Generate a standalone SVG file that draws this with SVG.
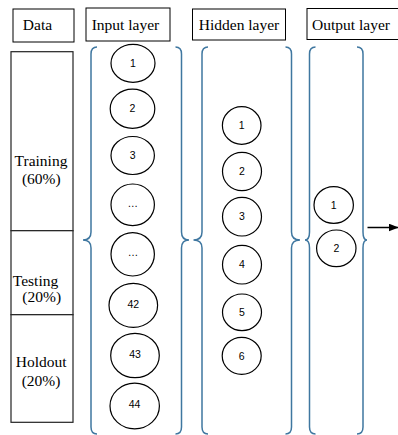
<svg xmlns="http://www.w3.org/2000/svg" width="398" height="435" viewBox="0 0 398 435">
<style>
.hdr{fill:#fff;stroke:#000;stroke-width:1}
.hl{font-family:"Liberation Serif","Times New Roman",serif;font-size:15.5px;fill:#000;text-anchor:middle}
.seg{fill:#fff;stroke:#222;stroke-width:1.2}
.brace{fill:none;stroke:#3F77A0;stroke-width:1.5}
.node{fill:#fff;stroke:#000;stroke-width:1.2}
.nt{font-family:"Liberation Sans",Arial,sans-serif;font-size:10.5px;fill:#000;text-anchor:middle}
</style>
<defs>
<marker id="ah" markerWidth="10" markerHeight="8" refX="9.5" refY="4" orient="auto" markerUnits="userSpaceOnUse">
<path d="M0,0 L10,4 L0,8 Z" fill="#000"/>
</marker>
</defs>
<rect width="398" height="435" fill="#fff"/>

<g id="headers">
<g id="hdr-data"><rect class="hdr" x="13" y="9" width="61" height="33"/><text class="hl" x="37.5" y="30">Data</text></g>
<g id="hdr-input"><rect class="hdr" x="86" y="8" width="84" height="33"/><text class="hl" x="125.5" y="29.5">Input layer</text></g>
<g id="hdr-hidden"><rect class="hdr" x="192.5" y="9" width="93" height="31"/><text class="hl" x="239" y="29.5">Hidden layer</text></g>
<g id="hdr-output"><rect class="hdr" x="307" y="8.5" width="100" height="31"/><text class="hl" x="351" y="29.5">Output layer</text></g>
</g>

<g id="data">
<g id="training"><rect class="seg" x="11" y="51.7" width="62" height="179"/>
<text class="hl" x="41" y="166">Training</text><text class="hl" x="41.3" y="183.5">(60%)</text></g>
<g id="testing"><rect class="seg" x="11" y="230.7" width="62" height="84"/>
<text class="hl" x="35.5" y="285.5">Testing</text><text class="hl" x="41.7" y="302">(20%)</text></g>
<g id="holdout"><rect class="seg" x="11" y="314.7" width="62" height="107.6"/>
<text class="hl" x="41.2" y="367.3">Holdout</text><text class="hl" x="41" y="386">(20%)</text></g>
</g>

<g id="braces">
<path class="brace" d="M97,47 Q91,47 91,54 L91,232 Q91,240 83,240 Q91,240 91,248 L91,427 Q91,434 97,434"/>
<path class="brace" d="M175.5,47 Q181.5,47 181.5,54 L181.5,232 Q181.5,240 189,240 Q181.5,240 181.5,248 L181.5,427 Q181.5,434 175.5,434"/>
<path class="brace" d="M208,47 Q202,47 202,54 L202,232 Q202,240 193.5,240 Q202,240 202,248 L202,427 Q202,434 208,434"/>
<path class="brace" d="M285.5,47 Q291.5,47 291.5,54 L291.5,232 Q291.5,240 300,240 Q291.5,240 291.5,248 L291.5,427 Q291.5,434 285.5,434"/>
<path class="brace" d="M315.5,47 Q309.5,47 309.5,54 L309.5,232 Q309.5,240 305,240 Q309.5,240 309.5,248 L309.5,427 Q309.5,434 315.5,434"/>
<path class="brace" d="M357,47 Q363,47 363,54 L363,232 Q363,240 367,240 Q363,240 363,248 L363,427 Q363,434 357,434"/>
</g>

<g id="input-nodes">
<g id="in1"><ellipse class="node" cx="133" cy="63.3" rx="22" ry="19"/><text class="nt" x="133" y="67">1</text></g>
<g id="in2"><ellipse class="node" cx="132.5" cy="108.7" rx="22.3" ry="19.6"/><text class="nt" x="132.5" y="112.4">2</text></g>
<g id="in3"><ellipse class="node" cx="132.7" cy="155.5" rx="21.7" ry="19"/><text class="nt" x="132.7" y="159">3</text></g>
<g id="in4"><ellipse class="node" cx="132.7" cy="204.8" rx="21.7" ry="20.8"/><text class="nt" x="132.7" y="206.5">…</text></g>
<g id="in5"><ellipse class="node" cx="132.7" cy="254.3" rx="21.7" ry="21.7"/><text class="nt" x="133" y="256">…</text></g>
<g id="in42"><ellipse class="node" cx="133.3" cy="305.3" rx="24.3" ry="22"/><text class="nt" x="133.3" y="307.5">42</text></g>
<g id="in43"><ellipse class="node" cx="135" cy="355.5" rx="24.3" ry="22.2"/><text class="nt" x="135" y="357.5">43</text></g>
<g id="in44"><ellipse class="node" cx="134.7" cy="406" rx="24.7" ry="22.8"/><text class="nt" x="134.5" y="407.8">44</text></g>
</g>

<g id="hidden-nodes">
<g id="h1"><ellipse class="node" cx="241.7" cy="125.5" rx="19.3" ry="18.8"/><text class="nt" x="241.7" y="129.2">1</text></g>
<g id="h2"><ellipse class="node" cx="242" cy="171.5" rx="19.5" ry="19.2"/><text class="nt" x="242" y="175.2">2</text></g>
<g id="h3"><ellipse class="node" cx="242" cy="216.7" rx="19.5" ry="19.3"/><text class="nt" x="242" y="220.4">3</text></g>
<g id="h4"><ellipse class="node" cx="242" cy="264.7" rx="19.5" ry="19.3"/><text class="nt" x="242" y="268.4">4</text></g>
<g id="h5"><ellipse class="node" cx="242" cy="312.3" rx="19.5" ry="18.3"/><text class="nt" x="242" y="316">5</text></g>
<g id="h6"><ellipse class="node" cx="241.7" cy="355.8" rx="19.5" ry="18.5"/><text class="nt" x="241.7" y="359.5">6</text></g>
</g>

<g id="output-nodes">
<g id="o1"><ellipse class="node" cx="333.7" cy="205" rx="19.7" ry="18.3"/><text class="nt" x="333.7" y="208.7">1</text></g>
<g id="o2"><ellipse class="node" cx="336.3" cy="248.3" rx="19.7" ry="18.3"/><text class="nt" x="336.3" y="252">2</text></g>
</g>

<g id="connectors">
<line x1="367.5" y1="227.5" x2="398" y2="227.5" stroke="#000" stroke-width="1.5" marker-end="url(#ah)"/>
</g>
</svg>
